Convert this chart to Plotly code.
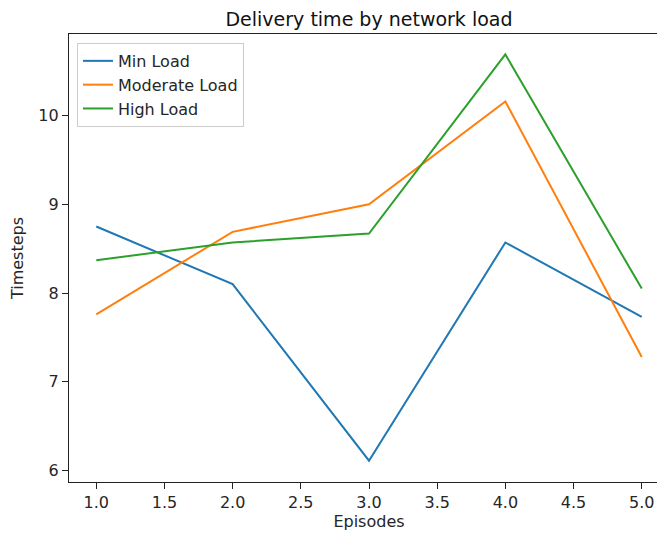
import plotly.graph_objects as go

episodes = [1, 2, 3, 4, 5]
min_load = [8.75, 8.10, 6.11, 8.57, 7.73]
moderate_load = [7.76, 8.69, 9.00, 10.16, 7.28]
high_load = [8.37, 8.57, 8.67, 10.69, 8.05]
series_names = ["Min Load", "Moderate Load", "High Load"]
colors = ["#1f77b4", "#ff7f0e", "#2ca02c"]

x_ticks = [1.0, 1.5, 2.0, 2.5, 3.0, 3.5, 4.0, 4.5, 5.0]
y_ticks = [6, 7, 8, 9, 10]

fig = go.Figure()
for name, vals, c in zip(series_names, [min_load, moderate_load, high_load], colors):
    fig.add_trace(go.Scatter(x=episodes, y=vals, mode="lines", name=name,
                             line=dict(color=c, width=2)))

FAM = "DejaVu Sans"
font = dict(family=FAM, size=16, color="#262626")
fig.update_layout(
    width=665, height=533,
    margin=dict(l=61, r=4, t=26, b=59),
    plot_bgcolor="white", paper_bgcolor="white",
    font=font,
    title=dict(text="Delivery time by network load", x=0.5, xref="paper",
               y=1 - 11 / 533, yref="container", xanchor="center", yanchor="middle",
               font=dict(family=FAM, size=19, color="#111")),
    showlegend=True,
    legend=dict(x=0.0133, y=0.98, xanchor="left", yanchor="top",
                bgcolor="rgba(255,255,255,0.8)", bordercolor="#cccccc", borderwidth=1,
                font=dict(family=FAM, size=16, color="#262626")),
    xaxis=dict(range=[0.8, 5.2], tickvals=x_ticks,
               ticktext=[f"{v:.1f}" for v in x_ticks],
               tickfont=dict(family=FAM, size=16, color="#262626"),
               showgrid=False, zeroline=False, showline=True, mirror=True,
               linecolor="#222", linewidth=1.2,
               ticks="outside", ticklen=6, tickcolor="#222",
               title=dict(text="Episodes", standoff=4,
                          font=dict(family=FAM, size=16, color="#262626"))),
    yaxis=dict(range=[5.87, 10.92], tickvals=y_ticks,
               tickfont=dict(family=FAM, size=16, color="#262626"),
               showgrid=False, zeroline=False, showline=True, mirror=True,
               linecolor="#222", linewidth=1.2,
               ticks="outside", ticklen=6, tickcolor="#222",
               title=dict(text="Timesteps", standoff=10,
                          font=dict(family=FAM, size=16, color="#262626"))),
)

fig.write_html("out.html")
